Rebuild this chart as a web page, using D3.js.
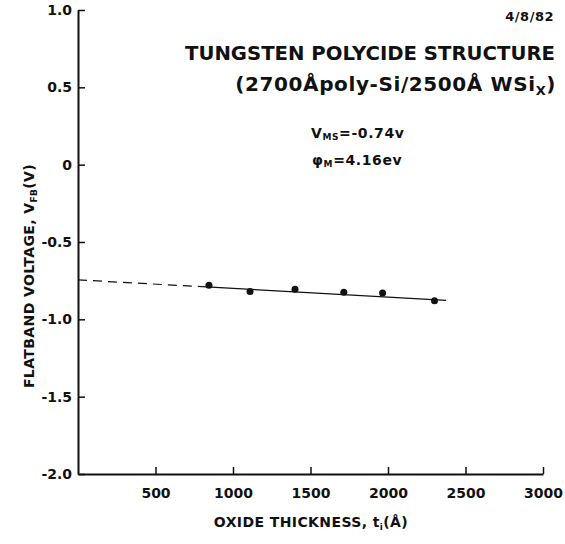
<!DOCTYPE html>
<html>
<head>
<meta charset="utf-8">
<script src="https://cdn.jsdelivr.net/npm/d3@7"></script>
<style>
  body { margin: 0; background: #fff; }
  svg { display: block; }
  text { font-family: 'DejaVu Sans', sans-serif; font-weight: bold; fill: #111; }
</style>
</head>
<body>
<svg></svg>
<script>
// measured points (oxide thickness in A, flatband voltage in V)
const thickness = [845, 1110, 1400, 1715, 1965, 2300];
const vfb = [-0.78, -0.82, -0.805, -0.825, -0.83, -0.88];

// fitted line, dashed extrapolation then solid part
const dashX = [0, 800];
const dashY = [-0.745, -0.789];
const solidX = [800, 2375];
const solidY = [-0.789, -0.877];

const xTicks = [500, 1000, 1500, 2000, 2500, 3000];
const yTicks = [1.0, 0.5, 0, -0.5, -1.0, -1.5, -2.0];
const yTickLabels = ['1.0', '0.5', '0', '-0.5', '-1.0', '-1.5', '-2.0'];

const width = 565;
const height = 544;
const font = "'DejaVu Sans', sans-serif";

const svg = d3.select('svg')
  .attr('width', width)
  .attr('height', height);

const xScale = d3.scaleLinear()
  .domain([0, 3000])
  .range([78, 543]);

const yScale = d3.scaleLinear()
  .domain([-2, 1])
  .range([474, 10]);

// axes, ticks point inward
const xAxis = d3.axisBottom(xScale)
  .tickValues(xTicks)
  .tickSize(-7)
  .tickSizeOuter(0)
  .tickPadding(14)
  .tickFormat(d => d);

const yAxis = d3.axisLeft(yScale)
  .tickValues(yTicks)
  .tickSize(-7)
  .tickSizeOuter(0)
  .tickPadding(6)
  .tickFormat((d, i) => yTickLabels[i]);

const gx = svg.append('g')
  .attr('transform', `translate(0, ${yScale(-2)})`)
  .call(xAxis);

const gy = svg.append('g')
  .attr('transform', `translate(${xScale(0)}, 0)`)
  .call(yAxis);

[gx, gy].forEach(g => {
  g.select('.domain').attr('stroke', '#111').attr('stroke-width', 2);
  g.selectAll('.tick line').attr('stroke', '#111').attr('stroke-width', 1.5);
  g.selectAll('.tick text')
    .attr('font-family', font)
    .attr('font-weight', 'bold')
    .attr('font-size', 14)
    .attr('fill', '#111');
});

// fit line
const line = d3.line()
  .x(d => xScale(d[0]))
  .y(d => yScale(d[1]));

svg.append('path')
  .datum(d3.zip(dashX, dashY))
  .attr('d', line)
  .attr('fill', 'none')
  .attr('stroke', '#111')
  .attr('stroke-width', 1.2)
  .attr('stroke-dasharray', '9,6');

svg.append('path')
  .datum(d3.zip(solidX, solidY))
  .attr('d', line)
  .attr('fill', 'none')
  .attr('stroke', '#111')
  .attr('stroke-width', 1.2);

// data points
svg.selectAll('circle')
  .data(d3.zip(thickness, vfb))
  .enter()
  .append('circle')
  .attr('cx', d => xScale(d[0]))
  .attr('cy', d => yScale(d[1]))
  .attr('r', 3.5)
  .attr('fill', '#111');

// date and title
svg.append('text')
  .attr('x', 554)
  .attr('y', 21)
  .attr('text-anchor', 'end')
  .attr('font-size', 13)
  .attr('letter-spacing', 0.5)
  .text('4/8/82');

svg.append('text')
  .attr('x', 185)
  .attr('y', 60)
  .attr('font-size', 20)
  .attr('textLength', 370)
  .attr('lengthAdjust', 'spacingAndGlyphs')
  .text('TUNGSTEN POLYCIDE STRUCTURE');

const sub = svg.append('text')
  .attr('x', 556)
  .attr('y', 91)
  .attr('text-anchor', 'end')
  .attr('font-size', 20)
  .attr('letter-spacing', 0.6);
sub.append('tspan').text('(2700Åpoly-Si/2500Å WSi');
sub.append('tspan').attr('font-size', 13).attr('dy', 4).text('X');
sub.append('tspan').attr('dy', -4).text(')');

// annotations
const vms = svg.append('text')
  .attr('x', 311)
  .attr('y', 138)
  .attr('font-size', 14)
  .attr('letter-spacing', 0.6);
vms.append('tspan').text('V');
vms.append('tspan').attr('font-size', 9).attr('dy', 2).text('MS');
vms.append('tspan').attr('dy', -2).text('=-0.74v');

const phi = svg.append('text')
  .attr('x', 312)
  .attr('y', 165)
  .attr('font-size', 14)
  .attr('letter-spacing', 0.6);
phi.append('tspan').text('φ');
phi.append('tspan').attr('font-size', 9).attr('dy', 2).text('M');
phi.append('tspan').attr('dy', -2).text('=4.16ev');

// axis titles
const ylab = svg.append('text')
  .attr('transform', 'translate(34, 276) rotate(-90)')
  .attr('text-anchor', 'middle')
  .attr('font-size', 14)
  .attr('letter-spacing', 0.4);
ylab.append('tspan').text('FLATBAND VOLTAGE, V');
ylab.append('tspan').attr('font-size', 9).attr('dy', 3).text('FB');
ylab.append('tspan').attr('dy', -3).text('(V)');

const xlab = svg.append('text')
  .attr('x', 311)
  .attr('y', 527)
  .attr('text-anchor', 'middle')
  .attr('font-size', 14)
  .attr('letter-spacing', 0.4);
xlab.append('tspan').text('OXIDE THICKNESS, t');
xlab.append('tspan').attr('font-size', 9).attr('dy', 3).text('i');
xlab.append('tspan').attr('dy', -3).text('(Å)');
</script>
</body>
</html>
